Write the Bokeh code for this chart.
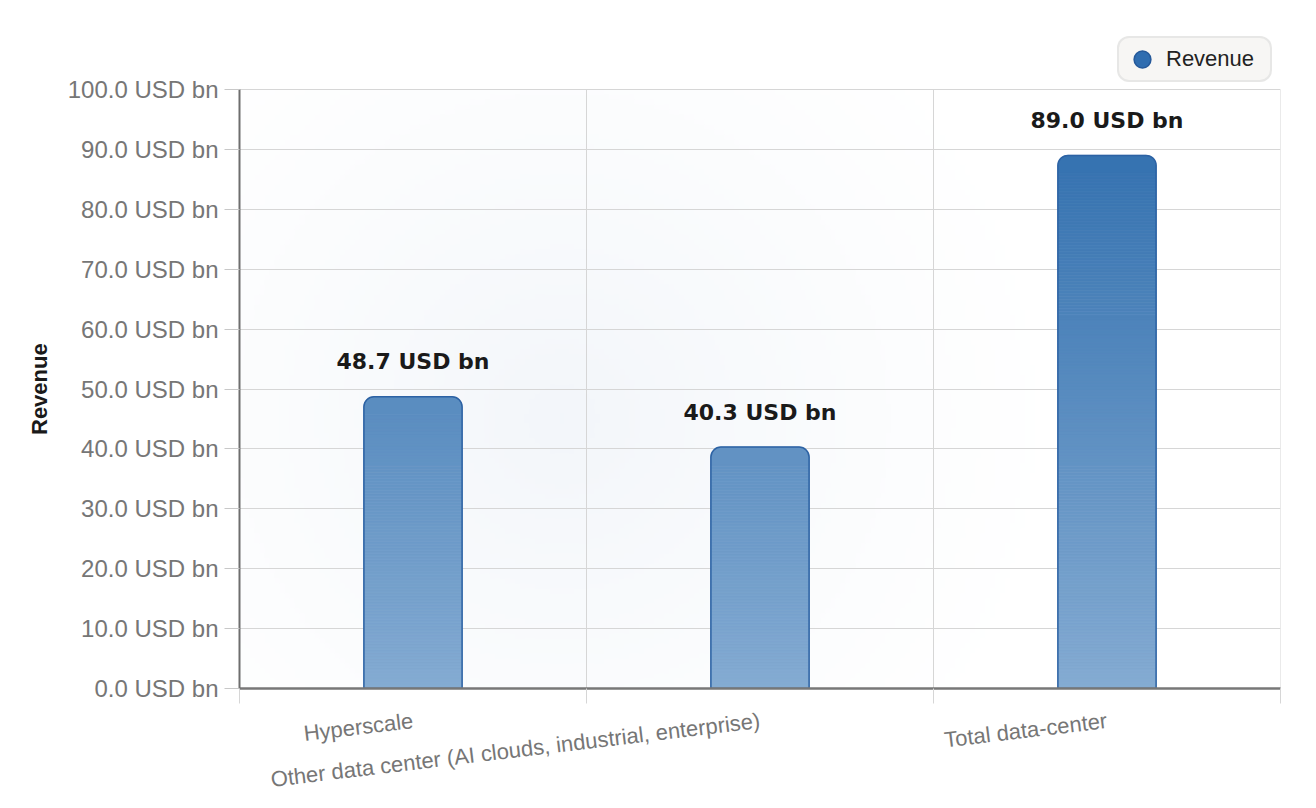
import numpy as np
from bokeh.plotting import figure
from bokeh.models import (ColumnDataSource, Range1d, FixedTicker, PrintfTickFormatter,
                          LabelSet, Legend, LegendItem, VBar, Title)
from bokeh.embed import file_html
from bokeh.resources import INLINE
from bokeh.core.properties import value

# ---- data ----
categories = ["Hyperscale",
              "Other data center (AI clouds, industrial, enterprise)",
              "Total data-center"]
revenue = [48.7, 40.3, 89.0]
y_ticks = [0, 10, 20, 30, 40, 50, 60, 70, 80, 90, 100]
series_name = "Revenue"
unit = "USD bn"

# ---- layout / styling ----
W, H = 1308, 808
BORDER_L, BORDER_R, BORDER_B = 239, 28, 120
AXIS_TOP_PX = 89                     # where the top tick sits
FRAME_H = H - BORDER_B
FRAME_W = W - BORDER_L - BORDER_R
Y_MAX = y_ticks[-1] * FRAME_H / (FRAME_H - AXIS_TOP_PX)
TITLE_LEN_PX = 92                    # approx. rendered length of the y title

TOP_RGB = np.array([0x35, 0x72, 0xb0])
BOT_RGB = np.array([0x84, 0xab, 0xd2])
GRAD_TOP = 89.0
BAR_W = 0.283
RADIUS = 10
GRID = "#d6d6d6"

def grad_color(yv):
    t = min(max(yv / GRAD_TOP, 0.0), 1.0)
    c = BOT_RGB + (TOP_RGB - BOT_RGB) * t
    return "#%02x%02x%02x" % tuple(int(round(k)) for k in c)

n = len(categories)
centers = [i + 0.5 for i in range(n)]
bounds = list(range(n + 1))

p = figure(width=W, height=H, x_range=Range1d(0, n), y_range=Range1d(0, Y_MAX),
           output_backend="svg", toolbar_location=None,
           min_border_left=BORDER_L, min_border_right=BORDER_R, min_border_top=0,
           min_border_bottom=BORDER_B)
p.outline_line_color = None
p.background_fill_color = "#ffffff"
p.border_fill_color = "#ffffff"

# subtle radial backdrop inside the plot area
axis_h = FRAME_H - AXIS_TOP_PX
nx, ny = 208, 120
gx = (np.arange(nx) + 0.5) / nx * FRAME_W
gy = (np.arange(ny) + 0.5) / ny * axis_h
GX, GY = np.meshgrid(gx, gy)
dist = np.hypot(GX - 0.31 * FRAME_W, GY - 0.45 * axis_h) / 520.0
alpha = np.clip(1.0 - dist, 0, 1) ** 1.3
img = np.zeros((ny, nx), dtype=np.uint32)
view = img.view(dtype=np.uint8).reshape((ny, nx, 4))
view[:, :, 0] = 0xe8
view[:, :, 1] = 0xee
view[:, :, 2] = 0xf5
view[:, :, 3] = (alpha * 255 * 0.55).astype(np.uint8)
p.image_rgba(image=[img], x=0, y=y_ticks[0], dw=n, dh=y_ticks[-1] - y_ticks[0], level="image")

# vertical grid lines at category boundaries (limited to axis extent)
p.segment(x0=bounds, y0=[y_ticks[0]] * len(bounds), x1=bounds, y1=[y_ticks[-1]] * len(bounds),
          line_color=GRID, line_width=1, level="underlay")
p.xgrid.grid_line_color = None
p.ygrid.grid_line_color = GRID
p.ygrid.grid_line_width = 1

# gradient slices
cap = 3.0
step = 0.5
L, R, B, T, C = [], [], [], [], []
cap_x, cap_top, cap_bot, cap_col = [], [], [], []
for xc, v in zip(centers, revenue):
    edges = list(np.arange(0.0, v - cap, step)) + [v - cap]
    for b0, t0 in zip(edges[:-1], edges[1:]):
        L.append(xc - BAR_W / 2); R.append(xc + BAR_W / 2)
        B.append(b0); T.append(t0); C.append(grad_color((b0 + t0) / 2))
    cap_x.append(xc); cap_top.append(v); cap_bot.append(v - cap)
    cap_col.append(grad_color(v - cap / 2))

p.quad(left=L, right=R, bottom=B, top=T, fill_color=C, line_color=C, line_width=0.8)

has_radius = "border_radius" in VBar.properties()
cap_kw = dict(border_radius=(RADIUS, RADIUS, 0, 0)) if has_radius else {}
p.vbar(x=cap_x, top=cap_top, bottom=cap_bot, width=BAR_W, fill_color=cap_col,
       line_color=cap_col, line_width=0.8, **cap_kw)
p.vbar(x=centers, top=revenue, bottom=0, width=BAR_W, fill_color=None,
       line_color="#2c62a4", line_width=1.5, **cap_kw)

# legend helper glyph (invisible in plot)
leg_r = p.scatter(x=centers, y=revenue, size=0, marker="circle",
                  fill_color="#2f6db0", line_color="#25599a", line_width=1.5)

# data labels
lab_src = ColumnDataSource(dict(x=centers, y=revenue,
                                t=["%.1f %s" % (v, unit) for v in revenue]))
p.add_layout(LabelSet(x="x", y="y", text="t", source=lab_src, y_offset=35,
                      text_align="center", text_baseline="middle",
                      text_font=value("DejaVu Sans"), text_font_style="bold",
                      text_font_size="22px", text_color="#1a1a1a"))

# x axis
xa = p.xaxis[0]
xa.ticker = FixedTicker(ticks=centers, minor_ticks=bounds)
xa.major_label_overrides = {c: lab for c, lab in zip(centers, categories)}
xa.major_tick_line_color = None
xa.major_tick_out = 0
xa.major_tick_in = 0
xa.minor_tick_line_color = GRID
xa.minor_tick_out = 15
xa.minor_tick_in = 0
xa.axis_line_color = "#777777"
xa.axis_line_width = 2.5
xa.major_label_orientation = 0.12
xa.major_label_standoff = 17
xa.major_label_text_font = "Liberation Sans"
xa.major_label_text_font_size = "22px"
xa.major_label_text_color = "#767676"

# y axis
ya = p.yaxis[0]
ya.bounds = (y_ticks[0], y_ticks[-1])
ya.ticker = FixedTicker(ticks=y_ticks)
ya.formatter = PrintfTickFormatter(format="%.1f " + unit)
ya.major_tick_out = 15
ya.major_tick_in = 0
ya.major_tick_line_color = "#c8c8c8"
ya.minor_tick_line_color = None
ya.axis_line_color = "#6e6e6e"
ya.axis_line_width = 2
ya.major_label_standoff = 6
ya.major_label_text_font = "Liberation Sans"
ya.major_label_text_font_size = "24px"
ya.major_label_text_color = "#767676"

# y axis title, centred on the axis extent (not the whole frame)
ytitle = Title(text=series_name, align="left", offset=axis_h / 2 - TITLE_LEN_PX / 2,
               standoff=25, text_font="Liberation Sans", text_font_style="bold",
               text_font_size="22px", text_color="#1a1a1a")
p.add_layout(ytitle, "left")

# legend (inside the frame, above the top tick)
legend = Legend(items=[LegendItem(label=series_name, renderers=[leg_r])],
                location=(878, 606), orientation="horizontal",
                padding=0, margin=0, spacing=0,
                glyph_width=46, glyph_height=42, label_standoff=1, label_width=104,
                label_text_font="Liberation Sans", label_text_font_size="22px",
                label_text_color="#222222",
                background_fill_color="#f7f6f4", background_fill_alpha=1.0,
                border_line_color="#d8d8d8", border_line_width=2)
if "border_radius" in Legend.properties():
    legend.border_radius = 12
p.add_layout(legend, "center")

open("out.html", "w").write(file_html(p, INLINE))
